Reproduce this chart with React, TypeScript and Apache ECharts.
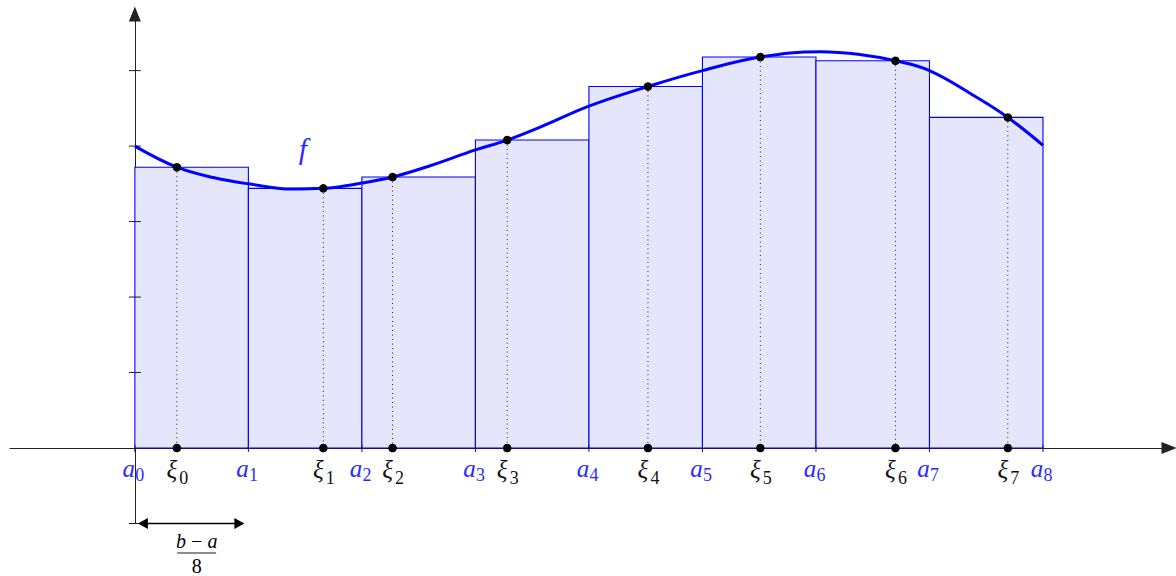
import React, { useEffect, useRef } from "react";
import * as echarts from "echarts";

// ---- data ----
const partition = [0, 1, 2, 3, 4, 5, 6, 7, 8]; // a_0 .. a_8
const xiValues = [0.37, 1.66, 2.27, 3.28, 4.52, 5.51, 6.7, 7.69]; // ξ_0 .. ξ_7
const fAtXi = [3.72, 3.44, 3.59, 4.08, 4.79, 5.18, 5.13, 4.38]; // f(ξ_i)
const curveX = [0, 0.37, 0.7, 1, 1.38, 1.66, 2, 2.27, 2.6, 3, 3.28, 3.6, 4, 4.52, 5, 5.51, 6.04, 6.4, 6.7, 7, 7.4, 7.69, 8];
const curveY = [4.0, 3.72, 3.58, 3.5, 3.43, 3.44, 3.51, 3.59, 3.74, 3.95, 4.08, 4.27, 4.53, 4.79, 5.0, 5.18, 5.25, 5.21, 5.13, 5.0, 4.66, 4.38, 4.01];
const yTickValues = [-1, 1, 2, 3, 4, 5];

const BLUE = "#0000ff";
const LABEL_BLUE = "#2b2bff";
const FILL = "#e5e5fb";
const SERIF = "Liberation Serif";

export default function App() {
  const ref = useRef<HTMLDivElement>(null);

  useEffect(() => {
    document.body.style.margin = "0";
    const chart = echarts.init(ref.current!, null, { renderer: "svg" });

    const rectData = partition.slice(0, -1).map((a, i) => [a, partition[i + 1], fAtXi[i]]);
    const curveData = curveX.map((x, i) => [x, curveY[i]]);
    const dotData = xiValues.map((x, i) => [x, fAtXi[i]]).concat(xiValues.map((x) => [x, 0]));

    const txt = (x: number, y: number, text: string, size: number, fill: string, italic: boolean) => ({
      type: "text",
      x,
      y,
      style: {
        text,
        fontSize: size,
        fontStyle: italic ? "italic" : "normal",
        fontFamily: SERIF,
        fill,
        align: "center",
        verticalAlign: "middle",
      },
    });

    const option: any = {
      animation: false,
      textStyle: { fontFamily: SERIF },
      grid: { left: 10, right: 7, top: 14, bottom: 52.5 },
      xAxis: {
        type: "value",
        min: -1.1,
        max: 9.11,
        axisLine: {
          show: true,
          onZero: true,
          symbol: ["none", "triangle"],
          symbolSize: [12, 15],
          lineStyle: { color: "#222", width: 1 },
        },
        axisTick: { show: false },
        axisLabel: { show: false },
        splitLine: { show: false },
      },
      yAxis: {
        type: "value",
        min: -1,
        max: 5.75,
        axisLine: {
          show: true,
          onZero: true,
          symbol: ["none", "triangle"],
          symbolSize: [12, 15],
          lineStyle: { color: "#222", width: 1 },
        },
        axisTick: { show: false },
        axisLabel: { show: false },
        splitLine: { show: false },
      },
      series: [
        {
          type: "custom",
          z: 1,
          data: rectData,
          renderItem: (params: any, api: any) => {
            const p0 = api.coord([api.value(0), api.value(2)]);
            const p1 = api.coord([api.value(1), 0]);
            return {
              type: "rect",
              shape: { x: p0[0], y: p0[1], width: p1[0] - p0[0], height: p1[1] - p0[1] },
              style: { fill: FILL, stroke: BLUE, lineWidth: 1.1 },
            };
          },
        },
        // y ticks
        {
          type: "custom",
          z: 2,
          data: yTickValues.map((t) => [0, t]),
          renderItem: (params: any, api: any) => {
            const p = api.coord([0, api.value(1)]);
            return {
              type: "line",
              shape: { x1: p[0] - 6, y1: p[1], x2: p[0] + 6, y2: p[1] },
              style: { stroke: "#222", lineWidth: 1 },
            };
          },
        },
        // x ticks
        {
          type: "custom",
          z: 2,
          data: partition.map((a) => [a, 0]),
          renderItem: (params: any, api: any) => {
            const p = api.coord([api.value(0), 0]);
            return {
              type: "line",
              shape: { x1: p[0], y1: p[1] - 3, x2: p[0], y2: p[1] + 4 },
              style: { stroke: "#222", lineWidth: 1 },
            };
          },
        },
        // dotted verticals
        {
          type: "custom",
          z: 3,
          data: xiValues.map((x, i) => [x, fAtXi[i]]),
          renderItem: (params: any, api: any) => {
            const p0 = api.coord([api.value(0), api.value(1)]);
            const p1 = api.coord([api.value(0), 0]);
            return {
              type: "line",
              shape: { x1: p0[0], y1: p0[1], x2: p1[0], y2: p1[1] },
              style: { stroke: "#222", lineWidth: 1, lineDash: [1, 3.5] },
            };
          },
        },
        {
          type: "line",
          z: 4,
          data: curveData,
          smooth: 0.4,
          showSymbol: false,
          lineStyle: { color: BLUE, width: 3 },
        },
        {
          type: "scatter",
          z: 5,
          data: dotData,
          symbolSize: 8.5,
          itemStyle: { color: "#000", opacity: 1 },
        },
        // a_i labels
        {
          type: "custom",
          z: 6,
          data: partition.map((a) => [a, 0]),
          renderItem: (params: any, api: any) => {
            const p = api.coord([api.value(0), 0]);
            return {
              type: "group",
              children: [
                txt(p[0] - 6, p[1] + 20, "a", 25, LABEL_BLUE, true),
                txt(p[0] + 5, p[1] + 27, String(params.dataIndex), 18, LABEL_BLUE, false),
              ],
            };
          },
        },
        // ξ_i labels
        {
          type: "custom",
          z: 6,
          data: xiValues.map((x) => [x, 0]),
          renderItem: (params: any, api: any) => {
            const p = api.coord([api.value(0), 0]);
            return {
              type: "group",
              children: [
                txt(p[0] - 5, p[1] + 21, "ξ", 25, "#111", true),
                txt(p[0] + 7, p[1] + 30, String(params.dataIndex), 18, "#111", false),
              ],
            };
          },
        },
        // annotations: f label, double arrow, (b-a)/8
        {
          type: "custom",
          z: 6,
          data: [[0, -1]],
          renderItem: (params: any, api: any) => {
            const pf = api.coord([1.48, 3.97]);
            const pa = api.coord([0, -1]);
            const pb = api.coord([1, -1]);
            const xL = pa[0] + 3;
            const xR = pb[0] - 4;
            const y = pa[1];
            const cx = (pa[0] + pb[0]) / 2 + 5;
            return {
              type: "group",
              children: [
                txt(pf[0], pf[1], "f", 30, LABEL_BLUE, true),
                {
                  type: "line",
                  shape: { x1: xL + 6, y1: y, x2: xR - 6, y2: y },
                  style: { stroke: "#000", lineWidth: 1.3 },
                },
                {
                  type: "polygon",
                  shape: { points: [[xL, y], [xL + 10, y - 5.5], [xL + 10, y + 5.5]] },
                  style: { fill: "#000" },
                },
                {
                  type: "polygon",
                  shape: { points: [[xR, y], [xR - 10, y - 5.5], [xR - 10, y + 5.5]] },
                  style: { fill: "#000" },
                },
                txt(cx, y + 17, "b\u2009\u2212\u2009a", 20, "#000", true),
                {
                  type: "line",
                  shape: { x1: cx - 19.5, y1: y + 29.5, x2: cx + 19.5, y2: y + 29.5 },
                  style: { stroke: "#000", lineWidth: 0.9 },
                },
                txt(cx, y + 42, "8", 20, "#000", false),
              ],
            };
          },
        },
      ],
    };

    chart.setOption(option);
    return () => chart.dispose();
  }, []);

  return <div ref={ref} style={{ width: 1176, height: 576 }} />;
}
